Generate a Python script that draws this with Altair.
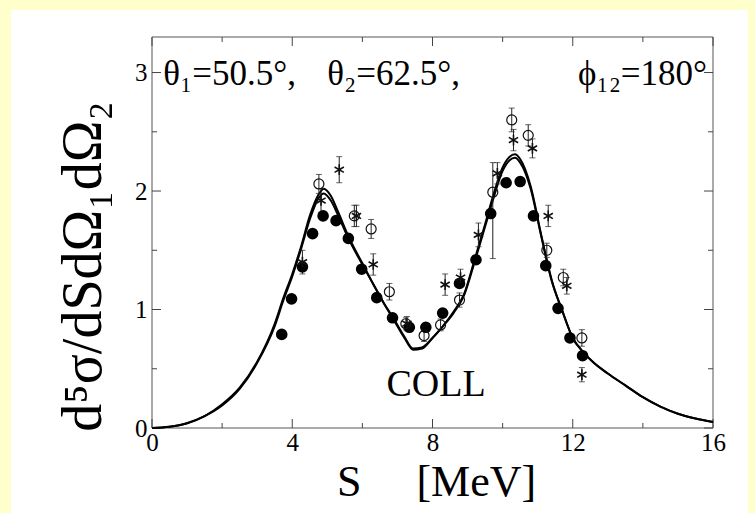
import altair as alt
import pandas as pd

SERIF = "Liberation Serif"

# ---- theory curves (two nearly coincident calculations) ----
s_theory = [0, 0.5, 1.0, 1.5, 2.0, 2.5, 3.0, 3.5, 3.75, 4.0, 4.25, 4.5, 4.75, 4.9, 5.1, 5.3,
            5.6, 6.0, 6.3, 6.6, 6.9, 7.2, 7.45, 7.7, 8.0, 8.3, 8.6, 8.9, 9.2, 9.5, 9.7, 10.0,
            10.2, 10.35, 10.5, 10.8, 11.1, 11.4, 11.7, 12.0, 12.3, 12.6, 13.0, 13.5, 14.0,
            14.5, 15.0, 15.5, 16.0]
v_theory_a = [0, 0.01, 0.04, 0.10, 0.19, 0.33, 0.55, 0.86, 1.08, 1.28, 1.51, 1.76, 1.94, 1.98,
              1.92, 1.80, 1.60, 1.38, 1.22, 1.06, 0.92, 0.77, 0.67, 0.68, 0.76, 0.86, 0.97,
              1.12, 1.40, 1.70, 1.90, 2.17, 2.26, 2.28, 2.24, 2.02, 1.62, 1.24, 0.99, 0.76,
              0.64, 0.55, 0.46, 0.36, 0.26, 0.18, 0.12, 0.08, 0.05]
v_theory_b = [0, 0.01, 0.04, 0.10, 0.20, 0.34, 0.56, 0.88, 1.10, 1.30, 1.53, 1.79, 1.97, 2.02,
              1.96, 1.83, 1.62, 1.39, 1.22, 1.06, 0.91, 0.76, 0.66, 0.67, 0.76, 0.86, 0.98,
              1.13, 1.42, 1.72, 1.93, 2.20, 2.29, 2.31, 2.27, 2.04, 1.63, 1.25, 0.99, 0.76,
              0.64, 0.55, 0.46, 0.36, 0.26, 0.18, 0.12, 0.08, 0.05]

# ---- filled circles ----
s_filled = [3.70, 3.98, 4.29, 4.58, 4.88, 5.25, 5.60, 5.98, 6.41, 6.86, 7.34, 7.81, 8.29,
            8.77, 9.24, 9.66, 10.10, 10.50, 10.88, 11.23, 11.58, 11.92, 12.28]
v_filled = [0.79, 1.09, 1.36, 1.64, 1.79, 1.75, 1.60, 1.34, 1.10, 0.93, 0.85, 0.85, 0.97,
            1.22, 1.42, 1.81, 2.07, 2.08, 1.79, 1.37, 1.01, 0.76, 0.61]

# ---- open circles with error bars ----
s_open = [4.76, 5.77, 6.25, 6.77, 7.24, 7.76, 8.23, 8.77, 9.72, 10.26, 10.73, 11.26, 11.73, 12.26]
v_open = [2.06, 1.79, 1.68, 1.15, 0.88, 0.78, 0.87, 1.08, 1.99, 2.60, 2.47, 1.50, 1.27, 0.76]
lo_open = [1.98, 1.70, 1.60, 1.08, 0.83, 0.73, 0.82, 1.02, 1.43, 2.50, 2.38, 1.44, 1.20, 0.69]
hi_open = [2.14, 1.88, 1.76, 1.22, 0.93, 0.83, 0.92, 1.14, 2.24, 2.70, 2.56, 1.56, 1.34, 0.83]

# ---- asterisks with error bars ----
s_star = [4.29, 4.82, 5.34, 5.83, 6.31, 7.27, 8.36, 8.80, 9.31, 9.85, 10.31, 10.85, 11.30, 11.83, 12.26]
v_star = [1.40, 1.92, 2.18, 1.79, 1.38, 0.88, 1.21, 1.27, 1.63, 2.15, 2.43, 2.36, 1.79, 1.20, 0.45]
lo_star = [1.30, 1.82, 2.07, 1.70, 1.29, 0.82, 1.12, 1.20, 1.53, 2.06, 2.34, 2.28, 1.70, 1.13, 0.39]
hi_star = [1.50, 2.02, 2.29, 1.88, 1.47, 0.94, 1.30, 1.34, 1.73, 2.24, 2.52, 2.44, 1.88, 1.27, 0.51]

# ---- axes ----
x_major = [0, 4, 8, 12, 16]
x_minor = [2, 6, 10, 14]
y_major = [0, 1, 2, 3]
y_minor = [0.5, 1.5, 2.5]

header_x = [0.32, 5.0, 12.15]
header_text = ["θ₁=50.5°,", "θ₂=62.5°,", "ϕ₁₂=180°"]

W, H = 561, 391
XS = alt.Scale(domain=[0, 16], nice=False, zero=False)
YS = alt.Scale(domain=[0, 3.3], nice=False, zero=False)

x_axis = alt.Axis(values=x_major, format="d", ticks=False, tickSize=0, domain=False, grid=False,
                  labelFont=SERIF, labelFontSize=25, labelColor="black", labelPadding=2,
                  labelFlush=False, labelOverlap=False, zindex=2,
                  title="S\u00a0\u00a0\u00a0\u00a0\u00a0[MeV]", titleFont=SERIF, titleFontSize=44,
                  titleFontWeight="normal", titleColor="black", titleX=284, titleY=67,
                  titleBaseline="alphabetic", titleAlign="center")
y_axis = alt.Axis(values=y_major, format="d", ticks=False, tickSize=0, domain=False, grid=False,
                  labelFont=SERIF, labelFontSize=25, labelColor="black", labelPadding=5,
                  labelOverlap=False, zindex=2,
                  title="d⁵σ/dSdΩ₁dΩ₂", titleFont=SERIF, titleFontSize=56,
                  titleFontWeight="normal", titleColor="black", titleAngle=270,
                  titleX=-52, titleY=229, titleBaseline="alphabetic", titleAlign="center")


def X(field):
    return alt.X(f"{field}:Q", scale=XS, axis=x_axis)


def Y(field):
    return alt.Y(f"{field}:Q", scale=YS, axis=y_axis)


one = pd.DataFrame({"k": [0]})
bg = alt.Chart(one).mark_rect(color="white").encode(
    x=alt.value(-141), x2=alt.value(596), y=alt.value(-27), y2=alt.value(480))
frame = alt.Chart(one).mark_rect(fill=None, stroke="#555", strokeWidth=1).encode(
    x=alt.value(0), x2=alt.value(W), y=alt.value(0), y2=alt.value(H))

TICK_C = "#444"
xt_major = pd.DataFrame({"s": x_major})
xt_minor = pd.DataFrame({"s": x_minor})
yt_major = pd.DataFrame({"v": y_major})
yt_minor = pd.DataFrame({"v": y_minor})

ticks = []
for df, L in [(xt_major, 9), (xt_minor, 5)]:
    ticks.append(alt.Chart(df).mark_rule(color=TICK_C, strokeWidth=1).encode(
        x=X("s"), y=alt.value(H - L), y2=alt.value(H)))
    ticks.append(alt.Chart(df).mark_rule(color=TICK_C, strokeWidth=1).encode(
        x=X("s"), y=alt.value(0), y2=alt.value(L)))
for df, L in [(yt_major, 9), (yt_minor, 5)]:
    ticks.append(alt.Chart(df).mark_rule(color=TICK_C, strokeWidth=1).encode(
        y=Y("v"), x=alt.value(0), x2=alt.value(L)))
    ticks.append(alt.Chart(df).mark_rule(color=TICK_C, strokeWidth=1).encode(
        y=Y("v"), x=alt.value(W - L), x2=alt.value(W)))

theory = pd.DataFrame({
    "s": s_theory * 2,
    "v": v_theory_a + v_theory_b,
    "calc": ["a"] * len(s_theory) + ["b"] * len(s_theory),
})
lines = alt.Chart(theory).mark_line(color="black", strokeWidth=2, interpolate="monotone").encode(
    x=X("s"), y=Y("v"), detail="calc:N")

err = pd.DataFrame({
    "s": s_open + s_star,
    "lo": lo_open + lo_star,
    "hi": hi_open + hi_star,
})
err_rule = alt.Chart(err).mark_rule(color="#222", strokeWidth=1).encode(
    x=X("s"), y=Y("lo"), y2="hi:Q")
cap_lo = alt.Chart(err).mark_tick(color="#222", orient="horizontal", size=6, thickness=1).encode(
    x=X("s"), y=Y("lo"))
cap_hi = alt.Chart(err).mark_tick(color="#222", orient="horizontal", size=6, thickness=1).encode(
    x=X("s"), y=Y("hi"))

filled = alt.Chart(pd.DataFrame({"s": s_filled, "v": v_filled})).mark_point(
    shape="circle", filled=True, color="black", size=135, opacity=1).encode(x=X("s"), y=Y("v"))
opened = alt.Chart(pd.DataFrame({"s": s_open, "v": v_open})).mark_point(
    shape="circle", filled=False, color="#111", size=100, strokeWidth=1.2, opacity=1).encode(
    x=X("s"), y=Y("v"))
ASTERISK = "M0,-1L0,1M-0.866,-0.5L0.866,0.5M-0.866,0.5L0.866,-0.5"
stars = alt.Chart(pd.DataFrame({"s": s_star, "v": v_star})).mark_point(
    shape=ASTERISK, filled=False, color="#111", size=115, strokeWidth=1.6, opacity=1).encode(
    x=X("s"), y=Y("v"))

header = alt.Chart(pd.DataFrame({"s": header_x, "v": [2.99] * 3, "t": header_text})).mark_text(
    font=SERIF, fontSize=35, color="black", align="left", baseline="middle").encode(
    x=X("s"), y=Y("v"), text="t:N")
coll = alt.Chart(pd.DataFrame({"s": [8.1], "v": [0.36], "t": ["COLL"]})).mark_text(
    font=SERIF, fontSize=38, color="black", align="center", baseline="middle").encode(
    x=X("s"), y=Y("v"), text="t:N")

chart = alt.layer(bg, frame, *ticks, lines, err_rule, cap_lo, cap_hi, filled, opened, stars,
                  header, coll).properties(
    width=W, height=H,
    padding={"left": 152, "top": 37, "right": 42, "bottom": 85},
    autosize=alt.AutoSizeParams(type="none"),
    background="#FFFFCC",
).configure_view(stroke=None)

chart.save("out.html", embed_options={"renderer": "svg", "actions": False})
